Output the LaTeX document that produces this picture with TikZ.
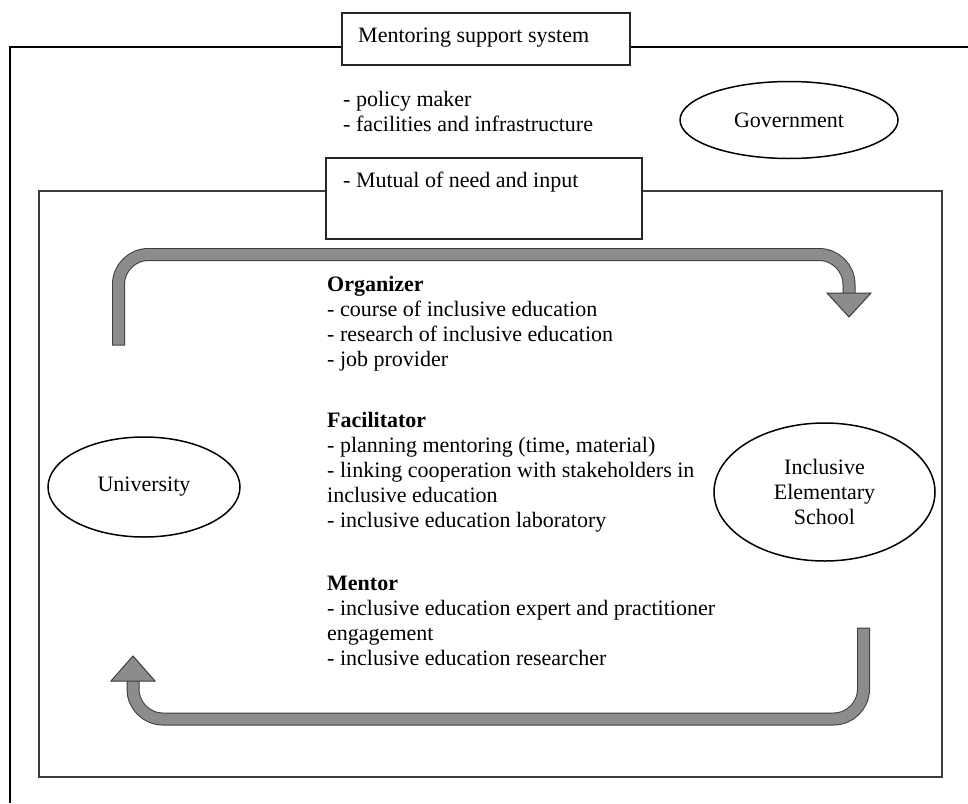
\documentclass[tikz,border=0pt]{standalone}
\usepackage{fontspec}
\setmainfont{Liberation Serif}
\usepackage{xcolor}
\usepackage{tikz}
\usetikzlibrary{shapes.geometric, positioning, calc}
\definecolor{arrowGray}{RGB}{140, 140, 140}
\definecolor{edgeGray}{RGB}{60, 60, 60}

\begin{document}
\begin{tikzpicture}[
  x=1pt, y=-1pt,
  every node/.style={font=\fontsize{22}{25}\selectfont},
  frame/.style={draw=black, line width=1.8pt},
  innerframe/.style={draw=edgeGray, line width=1.4pt},
  labelbox/.style={rectangle, draw=black!85, fill=white, line width=1.3pt, inner sep=0pt},
  actor/.style={ellipse, draw=black, line width=1.5pt, inner sep=0pt, align=center},
  listtext/.style={anchor=base west, align=left, inner sep=0pt},
  flow/.style={draw=edgeGray, line width=1pt, double=arrowGray, double distance=11pt, rounded corners=30pt, line cap=rect},
  flowhead/.style={draw=edgeGray, line width=1pt, fill=arrowGray, line join=miter}
]
  \useasboundingbox (0,0) rectangle (968,803);

  \coordinate (frameNE) at (968,47);
  \coordinate (frameNW) at (10,47);
  \coordinate (frameSW) at (10,803);
  \draw[frame] (frameNE) -- (frameNW) -- (frameSW);

  \coordinate (innerNW) at (39,191);
  \coordinate (innerSE) at (942,777);
  \draw[innerframe] (innerNW) rectangle (innerSE);

  \node[labelbox, minimum width=288pt, minimum height=52pt] (title) at (486,39) {};
  \node[listtext] (titletext) at (358,42) {Mentoring support system};

  \node[listtext] (govroles) at (343,131) {- policy maker\\- facilities and infrastructure};
  \node[actor, minimum width=218pt, minimum height=77pt] (government) at (789,120) {Government};

  \node[labelbox, minimum width=316pt, minimum height=81pt] (mutual) at (484,198.5) {};
  \node[listtext] (mutualtext) at (343,187) {- Mutual of need and input};

  \node[actor, minimum width=192pt, minimum height=100pt] (university) at (144,487) {University};
  \node[actor, minimum width=221pt, minimum height=138pt] (school) at (824.5,492) {Inclusive\\Elementary\\School};

  % blocks are placed by the baseline of their last line
  \node[listtext] (organizer) at (327,366) {\textbf{Organizer}\\- course of inclusive education\\- research of inclusive education\\- job provider};
  \node[listtext] (facilitator) at (327,527.5) {\textbf{Facilitator}\\- planning mentoring (time, material)\\- linking cooperation with stakeholders in\\inclusive education\\- inclusive education laboratory};
  \node[listtext] (mentor) at (327,665) {\textbf{Mentor}\\- inclusive education expert and practitioner\\engagement\\- inclusive education researcher};

  \coordinate (topStart) at (118.5,339);
  \coordinate (topEnd) at (849,296);
  \coordinate (botStart) at (863.5,634);
  \coordinate (botEnd) at (133,683);
  \draw[flow] (topStart) |- (topEnd |- 0,254.5) -- (topEnd);
  \draw[flowhead] (827,293) -- (871,293) -- (849,317) -- cycle;
  \draw[flow] (botStart) |- (botEnd |- 0,719) -- (botEnd);
  \draw[flowhead] (111,681) -- (155,681) -- (133,656) -- cycle;
\end{tikzpicture}
\end{document}
